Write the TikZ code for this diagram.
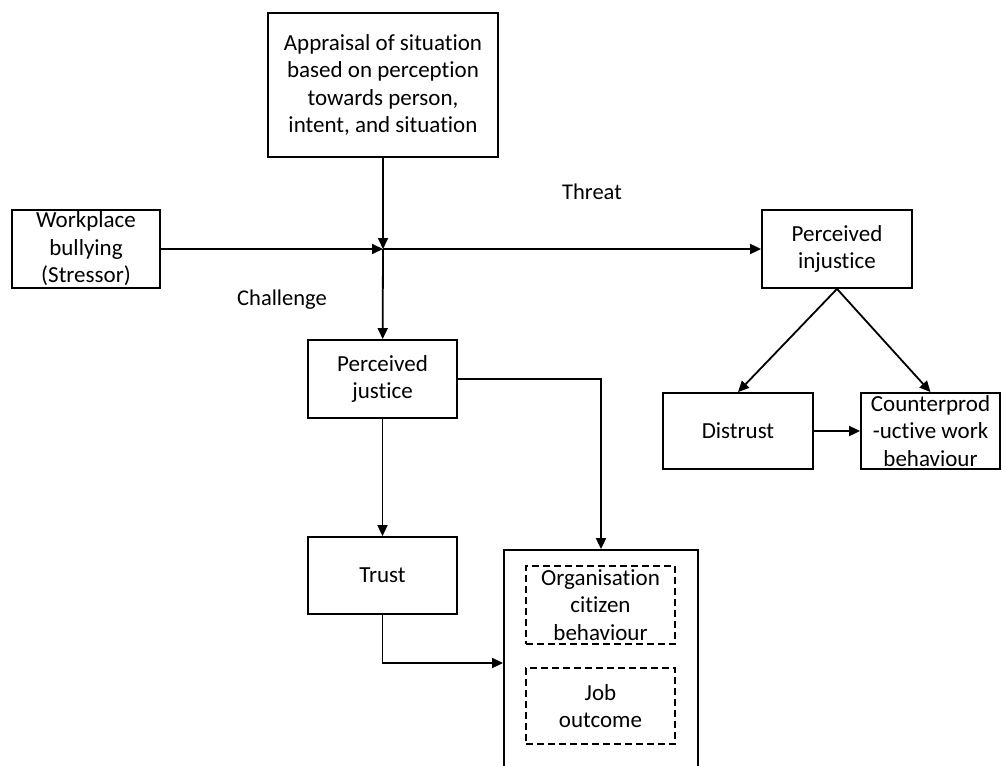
\documentclass[tikz,border=0pt]{standalone}
\usepackage{fontspec}
\setmainfont{Carlito}[Ligatures=NoCommon]
\usetikzlibrary{calc,shapes,positioning}
\usetikzlibrary{arrows.meta}
\tikzset{>={Triangle[width=10pt,length=11pt]}}

\begin{document}
\begin{tikzpicture}[x=1pt,y=-1pt,line width=1.8pt]
      \tikzstyle{bnode} = [draw, rectangle, inner sep = 0pt, align=center, font=\fontsize{23}{27.5}\selectfont]
      \tikzstyle{dnode} = [bnode, line width=1.4pt, dash pattern=on 7pt off 4pt]
      \tikzstyle{lnode} = [inner sep = 0pt, font=\fontsize{22.5}{27.5}\selectfont]
      \useasboundingbox (0,0) rectangle (1002,766);
      \clip (0,0) rectangle (1002,766);

      \node[bnode, minimum width=230pt, minimum height=144pt] (appr) at (383,85) {Appraisal of situation\\ based on perception\\ towards person,\\ intent, and situation};
      \node[bnode, minimum width=148pt, minimum height=78pt] (bully) at (86,249) {Workplace\\ bullying\\ (Stressor)};
      \node[bnode, minimum width=150pt, minimum height=78pt] (injust) at (837,249) {Perceived\\ injustice};
      \node[bnode, minimum width=149pt, minimum height=78pt] (just) at (382.5,379) {Perceived\\ justice};
      \node[bnode, minimum width=149pt, minimum height=77pt] (trust) at (382.5,575.5) {Trust};
      \node[bnode, minimum width=150pt, minimum height=76pt] (distrust) at (738,431) {Distrust};
      \node[bnode, minimum width=139pt, minimum height=76pt] (cwb) at (930.5,431) {Counterprod\\ -uctive work\\ behaviour};
      \node[bnode, minimum width=194pt, minimum height=226pt] (outcome) at (601,663) {};
      \node[dnode, minimum width=149pt, minimum height=78pt] (ocb) at (600.5,605) {Organisation\\ citizen\\ behaviour};
      \node[dnode, minimum width=149pt, minimum height=76pt] (job) at (600.5,706) {Job\\ outcome};
      \node[lnode] (threat) at (592,192) {Threat};
      \node[lnode] (chall) at (282,300) {Challenge};
      \coordinate (jn) at (383,249);

      \draw[->] (appr) -- (jn);
      \draw[->] (bully) -- (jn);
      \draw[->] (jn) -- (injust);
      \draw[->] (jn) -- (just);
      \draw[->] (just.east) -| (outcome.north);
      \draw[->] (just) -- (trust);
      \draw[->] (trust.south) |- (outcome.west);
      \draw[->] (injust.south) -- (distrust.north);
      \draw[->] (injust.south) -- (cwb.north);
      \draw[->] (distrust) -- (cwb);
    \end{tikzpicture}
\end{document}
